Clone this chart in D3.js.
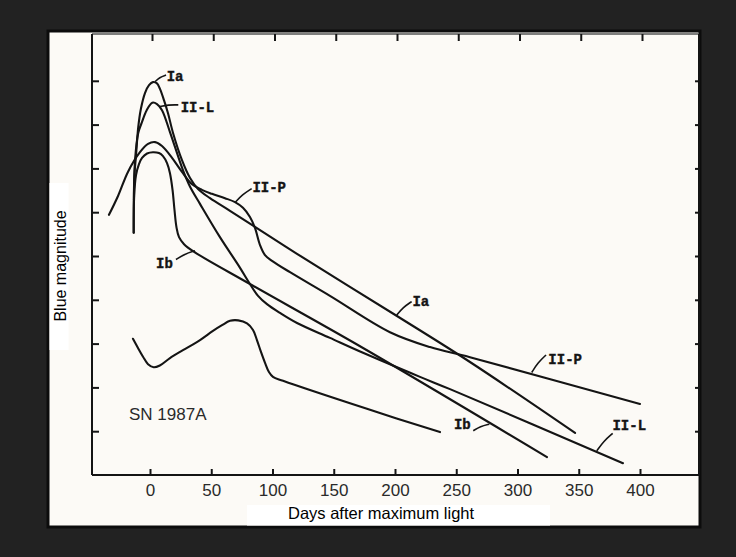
<!DOCTYPE html>
<html>
<head>
<meta charset="utf-8">
<script src="https://cdn.jsdelivr.net/npm/d3@7"></script>
<style>
  html, body { margin: 0; padding: 0; background: #222222; }
  svg { display: block; }
</style>
</head>
<body>
<svg id="chart" width="736" height="557"></svg>
<script>
// ---- data (day after maximum light, relative blue magnitude; larger = fainter) ----
const xTicks = [0, 50, 100, 150, 200, 250, 300, 350, 400];
const yTicks = [1, 2, 3, 4, 5, 6, 7, 8, 9];

const iaDays = [-13.3, -12.8, -11.4, -9.6, -7.5, -4.1, -0.8, 2.4, 5.7, 8.2, 11.4, 14.7, 18.8, 26.1, 32.7, 39.2, 49, 65.3, 120, 201.6, 261.2, 347];
const iaMag  = [4.47, 3.2, 2.7, 2.06, 1.65, 1.28, 1.1, 1.03, 1.06, 1.19, 1.44, 1.74, 2.19, 2.81, 3.22, 3.47, 3.68, 3.97, 4.95, 6.37, 7.42, 9.04];

const iilDays = [-13.1, -12.2, -9.6, -6.8, -2.7, 1.9, 5.7, 9.8, 16.3, 26.9, 32.7, 40.8, 57.1, 73.5, 81.6, 88.2, 95.5, 106.1, 120, 146.9, 173.9, 220.4, 244.9, 386.1];
const iilMag  = [3.72, 2.81, 2.19, 1.96, 1.67, 1.5, 1.53, 1.67, 2.17, 3.04, 3.42, 3.81, 4.57, 5.27, 5.64, 5.91, 6.1, 6.3, 6.53, 6.87, 7.21, 7.76, 8.04, 9.73];

const iipDays = [-33.5, -26.1, -18.0, -8.2, -1.6, 4.1, 9.8, 18.0, 26.1, 34.3, 42.4, 50.6, 61.2, 69.4, 75.9, 81.6, 85.7, 89.8, 93.9, 99.6, 114.3, 146.9, 195.9, 228.6, 261.2, 400];
const iipMag  = [4.06, 3.63, 3.08, 2.63, 2.44, 2.4, 2.49, 2.76, 3.08, 3.36, 3.49, 3.58, 3.68, 3.77, 3.9, 4.11, 4.36, 4.75, 4.98, 5.11, 5.37, 5.91, 6.74, 7.08, 7.31, 8.38];

const ibDays = [-13.3, -12.9, -11.4, -9.0, -6.5, -2.4, 2.4, 7.3, 10.6, 13.9, 16.3, 18.4, 20.0, 21.6, 23.7, 27.8, 35.1, 81.6, 173.9, 324.1];
const ibMag  = [4.47, 3.61, 3.15, 2.9, 2.76, 2.66, 2.63, 2.65, 2.72, 2.88, 3.11, 3.49, 3.95, 4.34, 4.57, 4.73, 4.89, 5.64, 7.1, 9.59];

const snDays = [-13.9, -9.8, -5.7, -1.6, 3.0, 8.0, 16.3, 26.9, 40.8, 51.4, 58.8, 65.3, 72.0, 79.2, 84.1, 87.3, 90.6, 93.9, 97.1, 100.4, 108.6, 177.1, 236.7];
const snMag  = [6.89, 7.1, 7.3, 7.47, 7.54, 7.5, 7.33, 7.15, 6.92, 6.71, 6.58, 6.48, 6.47, 6.54, 6.69, 6.92, 7.19, 7.44, 7.65, 7.76, 7.85, 8.49, 9.02];

// curve labels: text anchor point and leader line (from, to), in data units
const labelText = ["Ia", "II-L", "II-P", "Ib", "Ia", "II-P", "Ib", "II-L"];
const labelDay  = [13.6, 25.0, 83.6, 4.9, 214.2, 325.2, 248.1, 377.5];
const labelMag  = [1.01, 1.71, 3.54, 5.27, 6.15, 7.47, 8.94, 8.98];
const leadFromDay = [4.1, 8.2, 69.4, 21.2, 201.4, 311.6, 263.9, 364.7];
const leadFromMag = [1.02, 1.59, 3.78, 5.08, 6.35, 7.66, 8.99, 9.45];
const leadToDay   = [13.1, 23.1, 83.0, 36.7, 213.6, 323.3, 277.0, 377.7];
const leadToMag   = [0.87, 1.55, 3.46, 4.88, 6.04, 7.26, 8.84, 9.05];

const seriesList = [
  [iaDays, iaMag], [iilDays, iilMag], [iipDays, iipMag], [ibDays, ibMag], [snDays, snMag]
];

// ---- drawing ----
const svg = d3.select("#chart");
const x = d3.scaleLinear().domain([0, 400]).range([150, 640]);
const y = d3.scaleLinear().domain([0, 10]).range([37, 475]);

const plotL = 92, plotR = 699, plotT = 34, plotB = 475;
const ink = "#141414";

// panel
svg.append("rect").attr("x", 48).attr("y", 31).attr("width", 652).attr("height", 496)
  .attr("fill", "#fcfaf6").attr("stroke", "#0c0c0c").attr("stroke-width", 3);

// white label boxes
svg.append("rect").attr("x", 49.5).attr("y", 183).attr("width", 19).attr("height", 167).attr("fill", "#ffffff");
svg.append("rect").attr("x", 247).attr("y", 505).attr("width", 303).attr("height", 20.5).attr("fill", "#ffffff");

// frame lines
svg.append("line").attr("x1", plotL).attr("x2", plotR).attr("y1", plotT).attr("y2", plotT)
  .attr("stroke", "#555").attr("stroke-width", 1.6);
svg.append("line").attr("x1", plotL).attr("x2", plotL).attr("y1", plotT).attr("y2", plotB)
  .attr("stroke", ink).attr("stroke-width", 2);
svg.append("line").attr("x1", plotL).attr("x2", plotR + 1).attr("y1", plotB).attr("y2", plotB)
  .attr("stroke", ink).attr("stroke-width", 2);
svg.append("line").attr("x1", plotR).attr("x2", plotR).attr("y1", plotT).attr("y2", plotB)
  .attr("stroke", ink).attr("stroke-width", 2);

function styleAxis(g) {
  g.select(".domain").remove();
  g.selectAll(".tick line").attr("stroke", ink).attr("stroke-width", 2);
}

// bottom axis (ticks inward, labels below)
const gB = svg.append("g").attr("transform", `translate(0,${plotB})`)
  .call(d3.axisBottom(x).tickValues(xTicks).tickSizeInner(-6).tickSizeOuter(0).tickPadding(9))
  .call(styleAxis);
gB.selectAll(".tick text").attr("font-family", "'Liberation Sans', Arial, sans-serif")
  .attr("font-size", 17).attr("fill", "#2a2a2a");

// top axis (ticks downward)
svg.append("g").attr("transform", `translate(2,${plotT})`)
  .call(d3.axisBottom(x).tickValues(xTicks).tickSizeInner(7).tickSizeOuter(0).tickFormat(""))
  .call(styleAxis);

// left axis (ticks inward)
svg.append("g").attr("transform", `translate(${plotL},0)`)
  .call(d3.axisRight(y).tickValues(yTicks).tickSizeInner(7).tickSizeOuter(0).tickFormat(""))
  .call(styleAxis);

// right axis (ticks inward)
svg.append("g").attr("transform", `translate(${plotR},0)`)
  .call(d3.axisLeft(y).tickValues(yTicks).tickSizeInner(4).tickSizeOuter(0).tickFormat(""))
  .call(styleAxis);

// curves
const line = d3.line().x(d => x(d[0])).y(d => y(d[1])).curve(d3.curveCatmullRom.alpha(0.5));
seriesList.forEach(([days, mags]) => {
  const pts = days.map((d, i) => [d, mags[i]]);
  svg.append("path").datum(pts).attr("d", line)
    .attr("fill", "none").attr("stroke", ink).attr("stroke-width", 2.1)
    .attr("stroke-linejoin", "round").attr("stroke-linecap", "round");
});

// curve labels and leaders
labelText.forEach((t, i) => {
  svg.append("path")
    .attr("d", d3.line().curve(d3.curveBasis)([
      [x(leadFromDay[i]), y(leadFromMag[i])],
      [x((leadFromDay[i] + leadToDay[i]) / 2) - 1, y((leadFromMag[i] + leadToMag[i]) / 2) - 1],
      [x(leadToDay[i]), y(leadToMag[i])]
    ]))
    .attr("fill", "none").attr("stroke", ink).attr("stroke-width", 1.6);
  svg.append("text").attr("x", x(labelDay[i])).attr("y", y(labelMag[i]))
    .attr("font-family", "'Liberation Mono', 'DejaVu Sans Mono', monospace")
    .attr("font-weight", "bold").attr("font-size", 14).attr("fill", ink)
    .attr("stroke", ink).attr("stroke-width", 0.4)
    .text(t);
});

// SN 1987A label
svg.append("text").attr("x", 129).attr("y", 420)
  .attr("font-family", "'Liberation Sans', Arial, sans-serif").attr("font-size", 17)
  .attr("fill", "#2a2a2a").text("SN 1987A");

// axis titles
svg.append("text").attr("x", 288).attr("y", 519)
  .attr("font-family", "'Liberation Sans', Arial, sans-serif").attr("font-size", 16.5)
  .attr("fill", "#000").text("Days after maximum light");
svg.append("text").attr("transform", "translate(66,266) rotate(-90)")
  .attr("text-anchor", "middle")
  .attr("font-family", "'Liberation Sans', Arial, sans-serif").attr("font-size", 16)
  .attr("fill", "#000").text("Blue magnitude");
</script>
</body>
</html>
